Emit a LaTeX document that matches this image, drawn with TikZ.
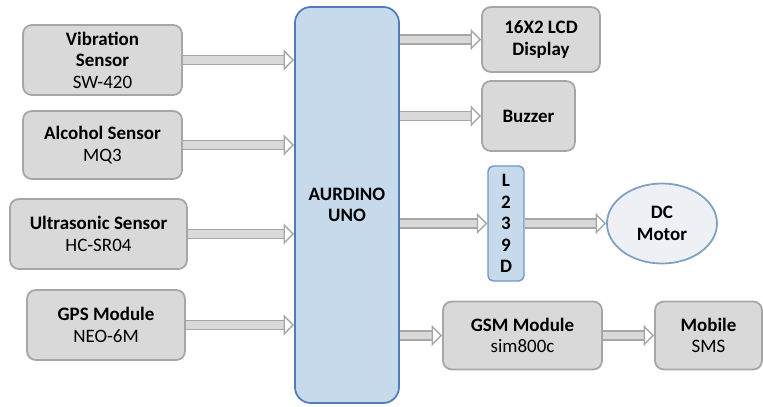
\documentclass[tikz,border=0pt]{standalone}
\usepackage{fontspec}
\setmainfont{Carlito}
\usepackage{xcolor}
\usetikzlibrary{shapes.geometric,positioning,calc,arrows.meta}
\definecolor{boxfill}{RGB}{217,217,217}
\definecolor{boxline}{RGB}{166,166,166}
\definecolor{unofill}{RGB}{199,218,236}
\definecolor{unoline}{RGB}{79,125,186}
\definecolor{motfill}{RGB}{237,241,246}
\definecolor{motline}{RGB}{128,160,192}

\begin{document}
\begin{tikzpicture}[font=\fontsize{10.8}{12.2}\selectfont,
 blk/.style={draw=boxline,line width=1pt,fill=boxfill,rounded corners=5pt,align=center,inner sep=2pt},
 uno/.style={draw=unoline,line width=1pt,fill=unofill,rounded corners=9pt,align=center,inner sep=0pt},
 drvbox/.style={draw=unoline!80,line width=0.8pt,fill=unofill,rounded corners=3pt,align=center,inner sep=0pt},
 mtr/.style={ellipse,draw=motline,line width=1pt,fill=motfill,align=center,inner sep=0pt},
 fat/.style={draw=boxline,line width=0.8pt,double=boxfill,double distance=4.5pt,-{Triangle[open,length=6pt,width=12pt]}}]
\useasboundingbox (0,0) rectangle (15.26,-8.14);
% inputs
\node[blk,minimum width=3.18cm,minimum height=1.40cm] (vib) at (2.05,-1.20) {\textbf{Vibration}\\ \textbf{Sensor}\\ SW-420};
\node[blk,minimum width=3.18cm,minimum height=1.36cm] (alc) at (2.05,-2.90) {\textbf{Alcohol Sensor}\\ MQ3};
\node[blk,minimum width=3.54cm,minimum height=1.40cm] (ult) at (1.97,-4.68) {\textbf{Ultrasonic Sensor}\\ HC-SR04};
\node[blk,minimum width=3.16cm,minimum height=1.40cm] (gps) at (2.12,-6.50) {\textbf{GPS Module}\\ NEO-6M};
% controller
\node[uno,minimum width=2.08cm,minimum height=7.92cm] (ard) at (6.94,-4.10) {\textbf{AURDINO}\\ \textbf{UNO}};
% outputs
\node[blk,minimum width=2.36cm,minimum height=1.30cm] (lcd) at (10.82,-0.79) {\textbf{16X2 LCD}\\ \textbf{Display}};
\node[blk,minimum width=1.86cm,minimum height=1.40cm] (buz) at (10.57,-2.32) {\textbf{Buzzer}};
\node[drvbox,minimum width=0.72cm,minimum height=2.30cm] (drv) at (10.12,-4.47) {\textbf{L}\\ \textbf{2}\\ \textbf{3}\\ \textbf{9}\\ \textbf{D}};
\node[mtr,minimum width=2.20cm,minimum height=1.60cm] (mot) at (13.24,-4.47) {\textbf{DC}\\ \textbf{Motor}};
\node[blk,minimum width=3.18cm,minimum height=1.36cm] (gsm) at (10.45,-6.71) {\textbf{GSM Module}\\ sim800c};
\node[blk,minimum width=2.14cm,minimum height=1.36cm] (mob) at (14.17,-6.71) {\textbf{Mobile}\\ SMS};
% links
\draw[fat] (vib.east) -- (vib.east -| ard.west);
\draw[fat] (alc.east) -- (alc.east -| ard.west);
\draw[fat] (ult.east) -- (ult.east -| ard.west);
\draw[fat] (gps.east) -- (gps.east -| ard.west);
\draw[fat] (ard.east |- lcd.west) -- (lcd.west);
\draw[fat] (ard.east |- buz.west) -- (buz.west);
\draw[fat] (ard.east |- drv.west) -- (drv.west);
\draw[fat] (drv.east) -- (mot.west);
\draw[fat] (ard.east |- gsm.west) -- (gsm.west);
\draw[fat] (gsm.east) -- (mob.west);
\end{tikzpicture}
\end{document}
